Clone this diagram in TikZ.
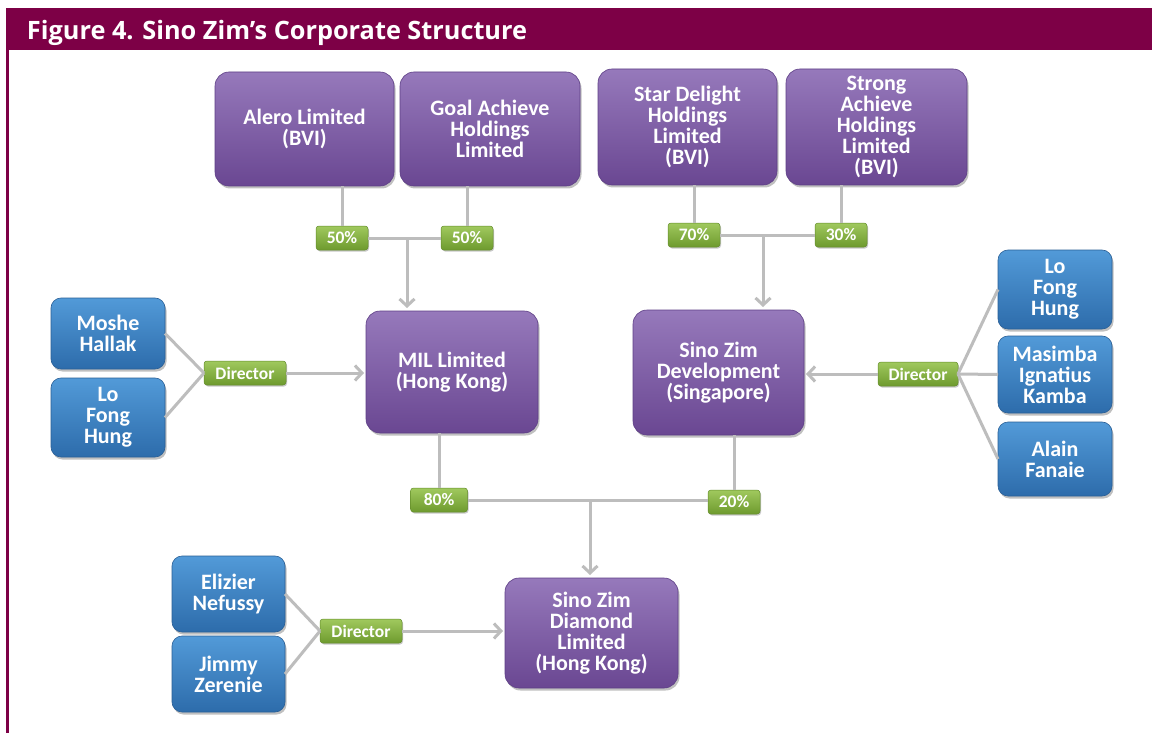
\documentclass[tikz,border=0pt]{standalone}
\usepackage{fontspec}
\setmainfont{Carlito}
\newfontfamily\titlefont{Open Sans}
\usetikzlibrary{arrows.meta,shadows}
\definecolor{hdr}{HTML}{7D0046}
\definecolor{pTop}{HTML}{9679BB}
\definecolor{pBot}{HTML}{6A4792}
\definecolor{pBrd}{HTML}{5E3F86}
\definecolor{bTop}{HTML}{529AD8}
\definecolor{bBot}{HTML}{2D6CAB}
\definecolor{bBrd}{HTML}{2A5F96}
\definecolor{gTop}{HTML}{A0C95E}
\definecolor{gBot}{HTML}{6E9A2E}
\definecolor{gBrd}{HTML}{638C2A}
\definecolor{ln}{HTML}{BDBDBD}
\tikzset{
  x=1pt,y=1pt,
  every node/.style={inner sep=0pt,outer sep=0pt},
  corp/.style={rectangle,rounded corners=14pt,draw=pBrd,line width=0.6pt,
    top color=pTop,bottom color=pBot,text=white,align=center,
    font=\fontsize{22}{21}\selectfont\bfseries,
    drop shadow={shadow xshift=1.5pt,shadow yshift=-2.5pt,opacity=0.35,fill=black!70}},
  pers/.style={rectangle,rounded corners=10pt,draw=bBrd,line width=0.6pt,
    top color=bTop,bottom color=bBot,text=white,align=center,
    minimum width=114pt,
    font=\fontsize{22}{21}\selectfont\bfseries,
    drop shadow={shadow xshift=1.5pt,shadow yshift=-2.5pt,opacity=0.35,fill=black!70}},
  pct/.style={rectangle,rounded corners=3pt,draw=gBrd,line width=0.5pt,
    top color=gTop,bottom color=gBot,text=white,align=center,
    minimum height=24pt,
    font=\fontsize{17.5}{17}\selectfont\bfseries,
    drop shadow={shadow xshift=1pt,shadow yshift=-1.5pt,opacity=0.3,fill=black!70}},
  conn/.style={draw=ln,line width=3pt},
  arr/.style={draw=ln,line width=3pt,-{Straight Barb[length=7pt,width=15pt,line width=3pt]}},
}
\begin{document}
\begin{tikzpicture}
\useasboundingbox (0,0) rectangle (1152,-733);
\fill[white] (0,0) rectangle (1152,-733);
% header
\fill[hdr] (6,-8) rectangle (1152,-50);
\fill[hdr] (6,-50) rectangle (9,-733);
\node[anchor=base west,text=white,font=\titlefont\fontsize{25.3}{26}\selectfont\bfseries] (title) at (27,-40) {Figure 4. Sino Zim’s Corporate Structure};

% owners top
\node[corp,minimum width=179pt,minimum height=114pt] (alero) at (304.5,-129) {Alero Limited\\(BVI)};
\node[corp,minimum width=180pt,minimum height=114pt] (goal) at (490,-129) {Goal Achieve\\Holdings\\Limited};
\node[corp,minimum width=179pt,minimum height=116pt] (star) at (687.5,-127) {Star Delight\\Holdings\\Limited\\(BVI)};
\node[corp,minimum width=181pt,minimum height=116pt] (strong) at (876.5,-127) {Strong\\Achieve\\Holdings\\Limited\\(BVI)};

% middle companies
\node[corp,minimum width=172pt,minimum height=122pt] (mil) at (452,-372) {MIL Limited\\(Hong Kong)};
\node[corp,minimum width=171pt,minimum height=125pt] (dev) at (718.5,-372.5) {Sino Zim\\Development\\(Singapore)};
\node[corp,minimum width=173pt,minimum height=110pt] (diam) at (591.5,-633) {Sino Zim\\Diamond\\Limited\\(Hong Kong)};

% people
\node[pers,minimum height=71pt] (moshe) at (108,-333.5) {Moshe\\Hallak};
\node[pers,minimum height=79pt] (lol) at (108,-417.5) {Lo\\Fong\\Hung};
\node[pers,minimum height=79pt] (lor) at (1055,-289.5) {Lo\\Fong\\Hung};
\node[pers,minimum height=77pt] (masi) at (1055,-374.5) {Masimba\\Ignatius\\Kamba};
\node[pers,minimum height=74pt] (alain) at (1055,-459) {Alain\\Fanaie};
\node[pers,minimum width=113pt,minimum height=76pt] (eliz) at (228.5,-594) {Elizier\\Nefussy};
\node[pers,minimum width=113pt,minimum height=76pt] (jimmy) at (228.5,-674) {Jimmy\\Zerenie};

% percentage labels
\node[pct,minimum width=52pt] (p50a) at (342,-238) {50\%};
\node[pct,minimum width=52pt] (p50b) at (467,-238) {50\%};
\node[pct,minimum width=52pt] (p70) at (694,-235) {70\%};
\node[pct,minimum width=52pt] (p30) at (841,-235) {30\%};
\node[pct,minimum width=57pt] (p80) at (439,-500) {80\%};
\node[pct,minimum width=52pt] (p20) at (734,-502) {20\%};
\node[pct,minimum width=82pt] (dirl) at (245,-373) {Director};
\node[pct,minimum width=80pt] (dirr) at (918,-374) {Director};
\node[pct,minimum width=82pt] (dirb) at (361,-631) {Director};

% junction points
\coordinate (j1) at (407,-238);
\coordinate (j2) at (763,-235);
\coordinate (j3) at (590,-501);

% connectors
\draw[conn] (p50a.north) -- (p50a.north |- alero.south);
\draw[conn] (p50b.north) -- (p50b.north |- goal.south);
\draw[conn] (p50a.east) -- (p50b.west);
\draw[arr] (j1) -- ([yshift=3pt]j1 |- mil.north);
\draw[conn] (p70.north) -- (p70.north |- star.south);
\draw[conn] (p30.north) -- (p30.north |- strong.south);
\draw[conn] (p70.east) -- (p30.west);
\draw[arr] (j2) -- ([yshift=3pt]j2 |- dev.north);
\draw[conn] (p80.north) -- (p80.north |- mil.south);
\draw[conn] (p20.north) -- (p20.north |- dev.south);
\draw[conn] (p80.east) -- (p80.east -| p20.west);
\draw[arr] (j3) -- ([yshift=3pt]j3 |- diam.north);

\draw[conn] (moshe.east) -- (dirl.west);
\draw[conn] (lol.east) -- (dirl.west);
\draw[arr] (dirl.east) -- ([xshift=-2pt]mil.west |- dirl.east);

\draw[conn] (lor.west) -- (dirr.east);
\draw[conn] (masi.west) -- (dirr.east);
\draw[conn] (alain.west) -- (dirr.east);
\draw[arr] (dirr.west) -- ([xshift=2pt]dev.east |- dirr.west);

\draw[conn] (eliz.east) -- (dirb.west);
\draw[conn] (jimmy.east) -- (dirb.west);
\draw[arr] (dirb.east) -- ([xshift=-2pt]diam.west |- dirb.east);
\end{tikzpicture}
\end{document}
